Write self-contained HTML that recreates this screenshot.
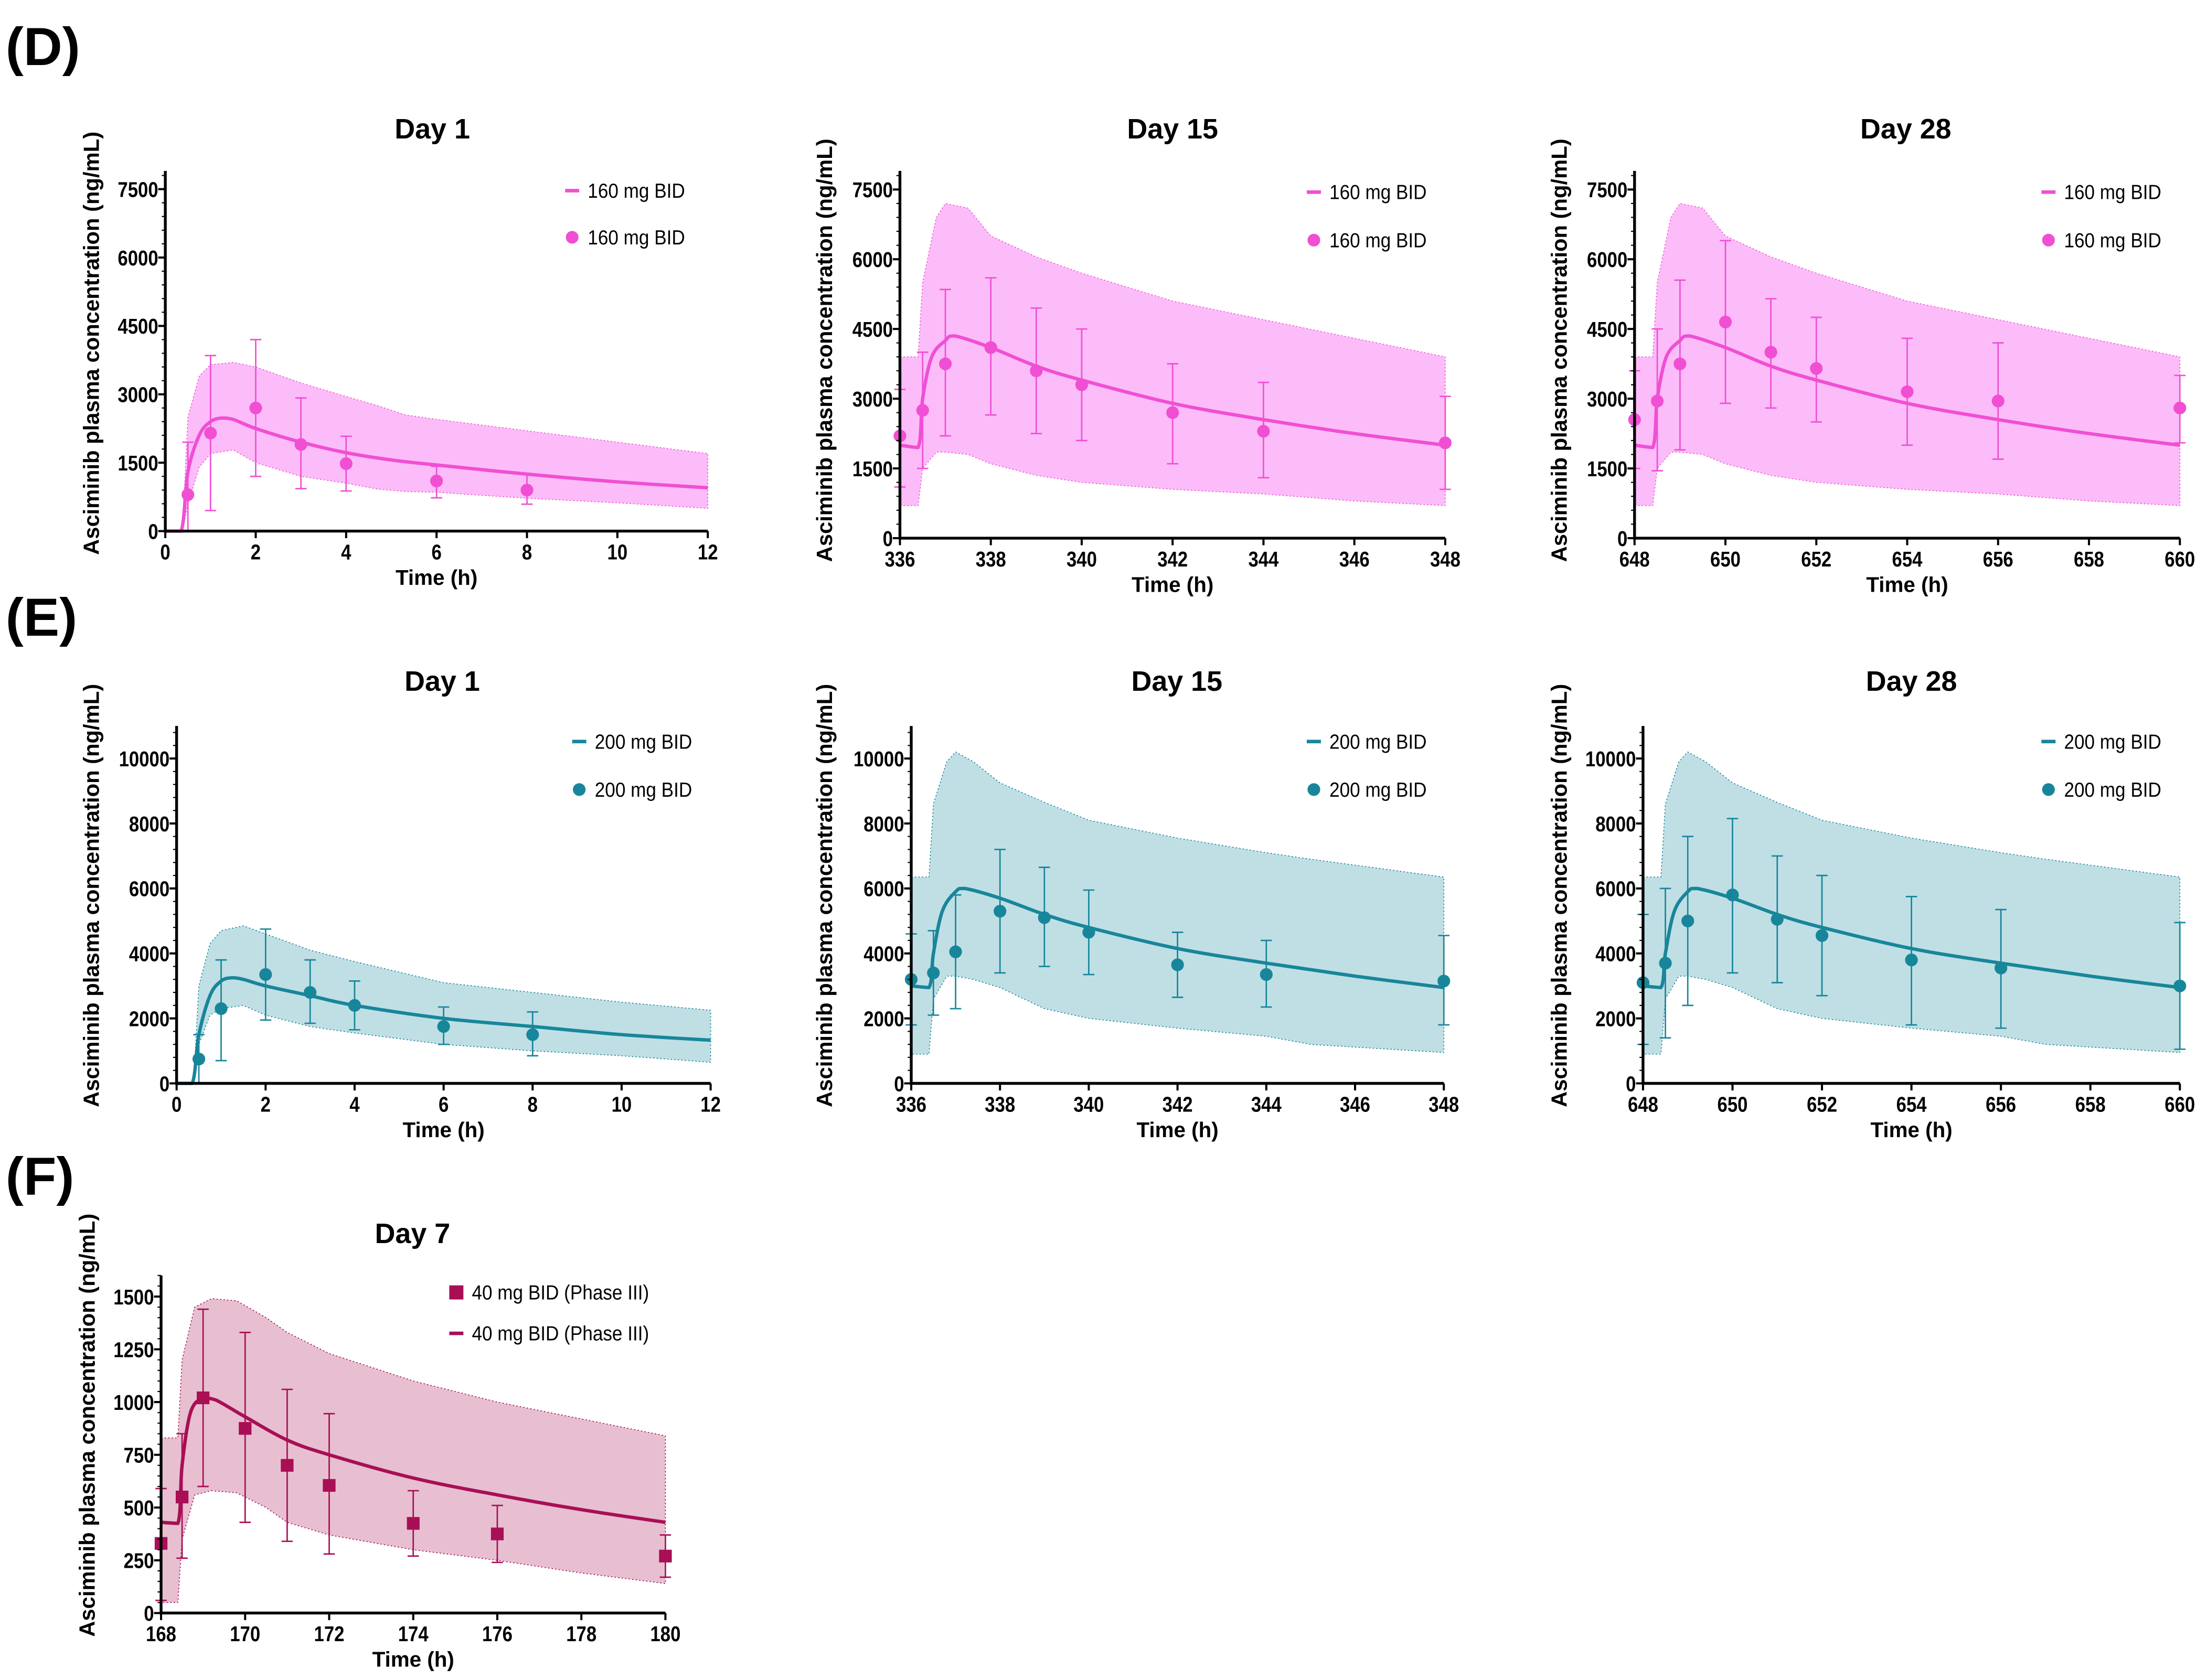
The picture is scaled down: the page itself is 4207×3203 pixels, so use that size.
<!DOCTYPE html>
<html><head><meta charset="utf-8">
<style>
html,body{margin:0;padding:0;background:#fff;}
svg{display:block;}
text{font-family:"Liberation Sans",Arial,sans-serif;}
</style></head>
<body>
<svg id="fig" xmlns="http://www.w3.org/2000/svg" width="4207" height="3203" viewBox="0 0 1562.2 1189.4">
<rect width="1562.2" height="1189.4" fill="#fff"/>
<text x="4" y="46" font-size="38" font-weight="bold">(D)</text>
<text x="4" y="450" font-size="38" font-weight="bold">(E)</text>
<text x="4" y="846" font-size="38" font-weight="bold">(F)</text>
</svg>
<script>
// ---- D: 160 mg BID ----
const d1Times=[0.5,1,2,3,4,6,8];
const d1Obs=[800,2150,2700,1900,1480,1100,900];
const d1Lo=[0,450,1200,930,880,730,590];
const d1Hi=[1950,3850,4200,2920,2080,1420,1250];
const d1LineT=[0,0.35,0.5,0.75,1,1.25,1.5,2,3,4,5,6,8,10,12];
const d1LineV=[0,0,1300,2100,2400,2480,2450,2250,1950,1720,1560,1450,1250,1080,950];
const d1BandT=[0.38,0.5,0.75,1,1.5,2,3,4,4.7,5.3,6,8,10,12];
const d1BandHi=[0,2500,3400,3650,3700,3600,3250,2950,2750,2550,2450,2200,1950,1700];
const d1BandLo=[0,600,1400,1700,1780,1500,1200,1050,920,870,850,720,620,500];

const d15Times=[336,336.5,337,338,339,340,342,344,348];
const d15Obs=[2200,2750,3750,4100,3600,3300,2700,2300,2050];
const d15Lo=[1100,1500,2200,2650,2250,2100,1600,1300,1050];
const d15Hi=[3200,4000,5350,5600,4950,4500,3750,3350,3050];
const dssLineDT=[0,0.4,0.5,0.7,1,1.2,2,3,4,6,8,10,12];
const dssLineV=[2000,1950,3000,3900,4250,4350,4100,3700,3400,2900,2550,2250,2000];
const dssBandDT=[0,0.4,0.5,0.8,1,1.5,2,3,4,6,8,10,12];
const dssBandHi=[3900,3900,5500,6900,7200,7100,6500,6050,5700,5100,4700,4300,3900];
const dssBandLo=[700,700,1500,1850,1850,1800,1600,1350,1200,1050,950,800,700];

const d28Times=[648,648.5,649,650,651,652,654,656,660];
const d28Obs=[2550,2950,3750,4650,4000,3650,3150,2950,2800];
const d28Lo=[1500,1450,1900,2900,2800,2500,2000,1700,2050];
const d28Hi=[3600,4500,5550,6400,5150,4750,4300,4200,3500];

// ---- E: 200 mg BID ----
const e1Times=[0.5,1,2,3,4,6,8];
const e1Obs=[750,2300,3350,2800,2400,1750,1500];
const e1Lo=[0,700,1950,1850,1650,1200,850];
const e1Hi=[1500,3800,4750,3800,3150,2350,2200];
const e1LineT=[0,0.35,0.5,0.75,1,1.25,1.5,2,3,4,6,8,10,12];
const e1LineV=[0,0,1500,2700,3150,3250,3200,3000,2700,2400,2000,1750,1500,1330];
const e1BandT=[0.38,0.5,0.75,1,1.5,2,3,4,6,8,10,12];
const e1BandHi=[0,3000,4300,4700,4850,4600,4100,3750,3100,2800,2500,2250];
const e1BandLo=[0,1200,2100,2300,2400,2100,1750,1550,1200,1000,850,650];

const e15Times=[336,336.5,337,338,339,340,342,344,348];
const e15Obs=[3200,3400,4050,5300,5100,4650,3650,3350,3150];
const e15Lo=[1800,2100,2300,3400,3600,3350,2650,2350,1800];
const e15Hi=[4600,4700,5800,7200,6650,5950,4650,4400,4550];
const essLineDT=[0,0.4,0.5,0.7,1,1.2,2,3,4,6,8,10,12];
const essLineV=[3000,2950,4000,5300,5900,6000,5700,5200,4800,4150,3700,3300,2950];
const essBandDT=[0,0.4,0.5,0.8,1,1.4,2,3,4,6,8,9,12];
const essBandHi=[6350,6350,8600,9900,10200,9900,9250,8650,8100,7550,7100,6900,6350];
const essBandLo=[900,900,2600,3300,3300,3200,2950,2300,2000,1700,1450,1200,950];

const e28Times=[648,648.5,649,650,651,652,654,656,660];
const e28Obs=[3100,3700,5000,5800,5050,4550,3800,3550,3000];
const e28Lo=[1200,1400,2400,3400,3100,2700,1800,1700,1050];
const e28Hi=[5200,6000,7600,8150,7000,6400,5750,5350,4950];

// ---- F: 40 mg BID (Phase III) ----
const fTimes=[168,168.5,169,170,171,172,174,176,180];
const fObs=[330,550,1020,875,700,605,425,375,270];
const fLo=[60,260,600,430,340,280,270,240,170];
const fHi=[590,850,1440,1330,1060,945,580,510,370];
const fLineT=[168,168.4,168.5,168.7,169,169.3,170,171,172,174,176,178,180];
const fLineV=[430,425,700,950,1020,1010,930,820,750,640,560,490,430];
const fBandT=[168,168.4,168.5,168.8,169.2,169.8,170.5,171,172,174,176,178,180];
const fBandHi=[830,830,1200,1450,1490,1480,1400,1330,1230,1100,1000,920,840];
const fBandLo=[50,50,350,560,580,570,500,430,370,300,250,190,140];

const dXTicks1=[0,2,4,6,8,10,12];
const dXTicks15=[336,338,340,342,344,346,348];
const dXTicks28=[648,650,652,654,656,658,660];
const fXTicks=[168,170,172,174,176,178,180];
const dYTicks=[0,1500,3000,4500,6000,7500];
const eYTicks=[0,2000,4000,6000,8000,10000];
const fYTicks=[0,250,500,750,1000,1250,1500];

const NS='http://www.w3.org/2000/svg';
const svg=document.getElementById('fig');
function mk(tag,attrs,parent){const e=document.createElementNS(NS,tag);for(const k in attrs)e.setAttribute(k,attrs[k]);(parent||svg).appendChild(e);return e;}
function shift(arr,o){return arr.map(v=>v+o);}
function clamp(v,a,b){return Math.min(Math.max(v,Math.min(a,b)),Math.max(a,b));}
// smooth path through points without overshoot
function smooth(pts){
  let d='M'+pts[0][0]+','+pts[0][1];
  for(let i=0;i<pts.length-1;i++){
    const p0=pts[i-1]||pts[i],p1=pts[i],p2=pts[i+1],p3=pts[i+2]||p2;
    const k=1/6;
    const c1x=clamp(p1[0]+(p2[0]-p0[0])*k,p1[0],p2[0]);
    const c2x=clamp(p2[0]-(p3[0]-p1[0])*k,p1[0],p2[0]);
    const c1y=clamp(p1[1]+(p2[1]-p0[1])*k,p1[1],p2[1]);
    const c2y=clamp(p2[1]-(p3[1]-p1[1])*k,p1[1],p2[1]);
    d+=`C${c1x},${c1y} ${c2x},${c2y} ${p2[0]},${p2[1]}`;
  }
  return d;
}

function panel(p){
  const g=mk('g',{});
  
  
  const sx=t=>p.x0+(t-p.xmin)/(p.xmax-p.xmin)*(p.x1-p.x0);
  const sy=v=>p.y0-v/p.ymax*(p.y0-p.yTop);
  let d='';
  p.bandT.forEach((t,i)=>{d+=(i?'L':'M')+sx(t)+','+sy(p.bandHi[i]);});
  for(let i=p.bandT.length-1;i>=0;i--)d+='L'+sx(p.bandT[i])+','+sy(p.bandLo[i]);
  const band=mk('path',{d:d+'Z',fill:p.fill,stroke:p.color,'stroke-width':0.6,'stroke-dasharray':'1 1.5','stroke-linejoin':'round'},g);
  
  
  const pts=p.lineT.map((t,i)=>[sx(t),sy(p.lineV[i])]);
  const line=mk('path',{d:smooth(pts),fill:'none',stroke:p.color,'stroke-width':2.4,'stroke-linejoin':'round'},g);
  
  
  p.times.forEach((t,i)=>{
    const x=sx(t);
    const eb=mk('path',{d:`M${x},${sy(p.lo[i])}V${sy(p.hi[i])}M${x-4},${sy(p.lo[i])}H${x+4}M${x-4},${sy(p.hi[i])}H${x+4}`,stroke:p.color,'stroke-width':1,fill:'none'},g);
    
    
    let m;
    if(p.square){m=mk('rect',{x:x-4.5,y:sy(p.obs[i])-4.5,width:9,height:9,fill:p.color},g);}
    else{m=mk('circle',{cx:x,cy:sy(p.obs[i]),r:4.5,fill:p.color},g);}
    
    
  });
  const ax=mk('path',{d:`M${p.x0},${p.yTop}V${p.y0}H${p.x1}`,stroke:'#000','stroke-width':2,fill:'none'},g);
  
  
  p.xticks.forEach(t=>{
    const x=sx(t);
    mk('line',{x1:x,x2:x,y1:p.y0,y2:p.y0+5,stroke:'#000','stroke-width':1.5},g);
    const tx=mk('text',{x:x,y:p.y0+20,'font-size':15,'font-weight':'bold','text-anchor':'middle',transform:`translate(${x} 0) scale(0.86 1) translate(${-x} 0)`},g);
    tx.textContent=t;
    
    
  });
  const step=p.yticks[1]/5;
  for(let v=0;v<=p.ymax+1e-6;v+=step){
    const y=sy(v);const major=p.yticks.includes(Math.round(v));
    mk('line',{x1:p.x0-(major?5:2.5),x2:p.x0,y1:y,y2:y,stroke:'#000','stroke-width':major?1.5:0.8},g);
  }
  p.yticks.forEach(v=>{
    const xx=p.x0-5;
    const tx=mk('text',{x:xx,y:sy(v)+5.5,'font-size':15,'font-weight':'bold','text-anchor':'end',transform:`translate(${xx} 0) scale(0.86 1) translate(${-xx} 0)`},g);
    tx.textContent=v;
    
    
  });
  const xl=mk('text',{x:(p.x0+p.x1)/2,y:p.y0+38,'font-size':15,'font-weight':'bold','text-anchor':'middle'},g);
  xl.textContent='Time (h)';
  
  
  const cy=p.y0-133;
  const yl=mk('text',{x:p.ylx,y:cy,'font-size':15.5,'font-weight':'bold','text-anchor':'middle',transform:`rotate(-90 ${p.ylx} ${cy})`},g);
  yl.textContent='Asciminib plasma concentration (ng/mL)';
  
  
  const ti=mk('text',{x:p.tx,y:p.ty,'font-size':20,'font-weight':'bold','text-anchor':'middle'},g);
  ti.textContent=p.title;
  
  
  p.legend.forEach((kind,i)=>{
    const ly=p.ly+i*(p.lgap);
    let sym;
    if(kind==='line')sym=mk('line',{x1:p.lx,x2:p.lx+10,y1:ly,y2:ly,stroke:p.color,'stroke-width':2.5},g);
    else if(kind==='square')sym=mk('rect',{x:p.lx,y:ly-5,width:10,height:10,fill:p.color},g);
    else sym=mk('circle',{cx:p.lx+5,cy:ly,r:4.5,fill:p.color},g);
    
    
    const lt=mk('text',{x:p.lx+16,y:ly+5,'font-size':14.5,transform:`translate(${p.lx+16} 0) scale(0.9 1) translate(${-(p.lx+16)} 0)`},g);
    lt.textContent=p.label;
    
    
  });
}

const PINK='#f04fd3',PINKF='#fcbcf9',TEAL='#18869a',TEALF='#bfdfe5',MAR='#a80f55',MARF='#e7bfd1';
const dLeg=['line','dot'];
panel({name:'panel-d-day1',x0:117,x1:501,y0:376,yTop:121,ymax:7900,xmin:0,xmax:12,xticks:dXTicks1,yticks:dYTicks,
 times:d1Times,obs:d1Obs,lo:d1Lo,hi:d1Hi,lineT:d1LineT,lineV:d1LineV,bandT:d1BandT,bandHi:d1BandHi,bandLo:d1BandLo,
 color:PINK,fill:PINKF,title:'Day 1',tx:306,ty:98,ylx:70,lx:400,ly:135,lgap:33,legend:dLeg,label:'160 mg BID'});
panel({name:'panel-d-day15',x0:637,x1:1023,y0:381,yTop:121,ymax:7900,xmin:336,xmax:348,xticks:dXTicks15,yticks:dYTicks,
 times:d15Times,obs:d15Obs,lo:d15Lo,hi:d15Hi,lineT:shift(dssLineDT,336),lineV:dssLineV,bandT:shift(dssBandDT,336),bandHi:dssBandHi,bandLo:dssBandLo,
 color:PINK,fill:PINKF,title:'Day 15',tx:830,ty:98,ylx:589,lx:925,ly:136,lgap:34,legend:dLeg,label:'160 mg BID'});
panel({name:'panel-d-day28',x0:1157,x1:1543,y0:381,yTop:121,ymax:7900,xmin:648,xmax:660,xticks:dXTicks28,yticks:dYTicks,
 times:d28Times,obs:d28Obs,lo:d28Lo,hi:d28Hi,lineT:shift(dssLineDT,648),lineV:dssLineV,bandT:shift(dssBandDT,648),bandHi:dssBandHi,bandLo:dssBandLo,
 color:PINK,fill:PINKF,title:'Day 28',tx:1349,ty:98,ylx:1109,lx:1445,ly:136,lgap:34,legend:dLeg,label:'160 mg BID'});
panel({name:'panel-e-day1',x0:125,x1:503,y0:767,yTop:514,ymax:11000,xmin:0,xmax:12,xticks:dXTicks1,yticks:eYTicks,
 times:e1Times,obs:e1Obs,lo:e1Lo,hi:e1Hi,lineT:e1LineT,lineV:e1LineV,bandT:e1BandT,bandHi:e1BandHi,bandLo:e1BandLo,
 color:TEAL,fill:TEALF,title:'Day 1',tx:313,ty:489,ylx:70,lx:405,ly:525,lgap:34,legend:dLeg,label:'200 mg BID'});
panel({name:'panel-e-day15',x0:645,x1:1022,y0:767,yTop:514,ymax:11000,xmin:336,xmax:348,xticks:dXTicks15,yticks:eYTicks,
 times:e15Times,obs:e15Obs,lo:e15Lo,hi:e15Hi,lineT:shift(essLineDT,336),lineV:essLineV,bandT:shift(essBandDT,336),bandHi:essBandHi,bandLo:essBandLo,
 color:TEAL,fill:TEALF,title:'Day 15',tx:833,ty:489,ylx:589,lx:925,ly:525,lgap:34,legend:dLeg,label:'200 mg BID'});
panel({name:'panel-e-day28',x0:1163,x1:1543,y0:767,yTop:514,ymax:11000,xmin:648,xmax:660,xticks:dXTicks28,yticks:eYTicks,
 times:e28Times,obs:e28Obs,lo:e28Lo,hi:e28Hi,lineT:shift(essLineDT,648),lineV:essLineV,bandT:shift(essBandDT,648),bandHi:essBandHi,bandLo:essBandLo,
 color:TEAL,fill:TEALF,title:'Day 28',tx:1353,ty:489,ylx:1109,lx:1445,ly:525,lgap:34,legend:dLeg,label:'200 mg BID'});
panel({name:'panel-f-day7',x0:114,x1:471,y0:1142,yTop:903,ymax:1600,xmin:168,xmax:180,xticks:fXTicks,yticks:fYTicks,square:true,
 times:fTimes,obs:fObs,lo:fLo,hi:fHi,lineT:fLineT,lineV:fLineV,bandT:fBandT,bandHi:fBandHi,bandLo:fBandLo,
 color:MAR,fill:MARF,title:'Day 7',tx:292,ty:880,ylx:67,lx:318,ly:915,lgap:29,legend:['square','line'],label:'40 mg BID (Phase III)'});
</script>
</body></html>
